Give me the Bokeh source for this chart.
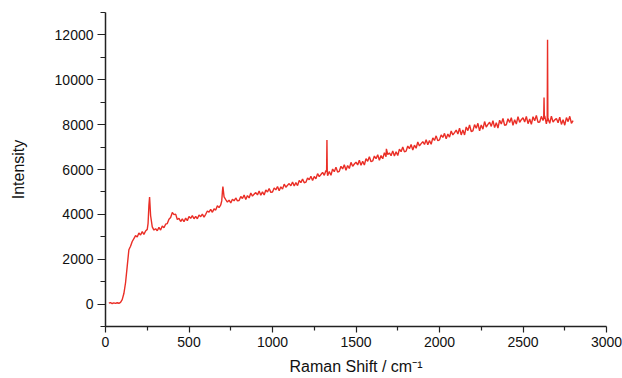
import numpy as np
from bokeh.plotting import figure
from bokeh.models import FixedTicker, ColumnDataSource
from bokeh.embed import file_html
from bokeh.resources import INLINE

# sampling grid for the baseline spectrum (cm^-1)
shift_grid = list(range(20, 2810, 10))
intensity_grid = [
    40, 65, 25, 55, 30, 60, 35, 80,
    200, 470, 950, 1680, 2420, 2580, 2790, 2920, 3050, 2990,
    3170, 3080, 3230, 3110, 3260, 3330, 4400, 3950, 3440, 3300,
    3360, 3270, 3420, 3300, 3480, 3400, 3560, 3590, 3780, 3860,
    4080, 3990, 4010, 3770, 3820, 3680, 3800, 3670, 3830, 3720,
    3904, 3823, 3946, 3805, 3910, 3805, 3970, 3895, 4012, 3877,
    4002, 4152, 4098, 4224, 4092, 4246, 4190, 4380, 4300, 4418,
    5000, 4780, 4660, 4548, 4634, 4510, 4676, 4602, 4730, 4606,
    4616, 4798, 4708, 4858, 4664, 4838, 4732, 4954, 4816, 4902,
    4972, 4869, 5038, 4855, 5000, 4865, 5090, 4995, 5156, 4981,
    4996, 5180, 5092, 5244, 5052, 5228, 5124, 5348, 5212, 5300,
    5372, 5272, 5444, 5264, 5412, 5280, 5508, 5416, 5580, 5408,
    5436, 5624, 5540, 5696, 5508, 5688, 5588, 5816, 5684, 5776,
    5870, 5742, 5954, 5726, 5908, 5740, 6022, 5904, 6106, 5888,
    5920, 6144, 6028, 6212, 5966, 6180, 6044, 6318, 6142, 6246,
    6330, 6202, 6414, 6186, 6368, 6200, 6482, 6364, 6566, 6348,
    6380, 6600, 6480, 6660, 6410, 6620, 6480, 6750, 6570, 6670,
    6740, 6615, 6830, 6605, 6790, 6625, 6910, 6795, 7000, 6785,
    6820, 7045, 6930, 7115, 6870, 7085, 6950, 7225, 7050, 7155,
    7240, 7115, 7330, 7105, 7290, 7125, 7410, 7295, 7500, 7285,
    7320, 7544, 7428, 7612, 7366, 7580, 7444, 7718, 7542, 7646,
    7757, 7581, 7847, 7541, 7768, 7540, 7897, 7734, 7987, 7694,
    7726, 8002, 7836, 8060, 7725, 7988, 7796, 8137, 7893, 8013,
    8107, 7923, 8181, 7867, 8086, 7850, 8199, 8028, 8273, 7972,
    7996, 8265, 8092, 8309, 7967, 8223, 8024, 8358, 8107, 8220,
    8307, 8115, 8365, 8043, 8254, 8010, 8351, 8172, 8409, 8100,
    8116, 8371, 8184, 8387, 8031, 8273, 8060, 8380, 8115, 8214,
    8277, 8084, 8333, 8010, 8220, 7975, 8315, 8135, 8371, 8061, 8180,
]

# narrow Raman peaks inserted between grid points
peak_shift = [255, 264, 696, 703, 1324, 1326, 1328, 1682, 2624, 2626, 2628, 2645, 2647, 2649]
peak_intensity = [3600, 4770, 4600, 5240, 5900, 7320, 5880, 6920, 8300, 9210, 8250, 8250, 11780, 8150]

x_ticks = [0, 500, 1000, 1500, 2000, 2500, 3000]
x_minor = [250, 750, 1250, 1750, 2250, 2750]
y_ticks = [0, 2000, 4000, 6000, 8000, 10000, 12000]
y_minor = [-1000, 1000, 3000, 5000, 7000, 9000, 11000, 13000]

xs = np.array(shift_grid + peak_shift, dtype=float)
ys = np.array(intensity_grid + peak_intensity, dtype=float)
order = np.argsort(xs, kind="stable")
src = ColumnDataSource(dict(x=xs[order], y=ys[order]))

p = figure(width=622, height=378, output_backend="svg", toolbar_location=None,
           x_range=(0, 3000), y_range=(-1000, 13000),
           min_border_left=105, min_border_right=16, min_border_top=12, min_border_bottom=52)
p.line("x", "y", source=src, line_color="#ea2e26", line_width=1.4)

p.outline_line_color = None
p.xgrid.visible = False
p.ygrid.visible = False
p.background_fill_color = "white"
p.border_fill_color = "white"

p.xaxis.ticker = FixedTicker(ticks=x_ticks, minor_ticks=x_minor)
p.yaxis.ticker = FixedTicker(ticks=y_ticks, minor_ticks=y_minor)

for ax in (p.xaxis, p.yaxis):
    ax.axis_line_color = "#222222"
    ax.axis_line_width = 1.5
    ax.major_tick_line_color = "#222222"
    ax.minor_tick_line_color = "#222222"
    ax.major_tick_line_width = 1.2
    ax.minor_tick_line_width = 1.2
    ax.major_tick_in = 0
    ax.minor_tick_in = 0
    ax.major_label_text_font = "Liberation Sans"
    ax.major_label_text_font_size = "14px"
    ax.major_label_text_color = "#111111"
    ax.axis_label_text_font = "Liberation Sans"
    ax.axis_label_text_font_size = "16px"
    ax.axis_label_text_font_style = "normal"
    ax.axis_label_text_color = "#111111"

p.xaxis.major_tick_out = 6
p.xaxis.minor_tick_out = 4
p.yaxis.major_tick_out = 8
p.yaxis.minor_tick_out = 5
p.xaxis.major_label_standoff = 4
p.yaxis.major_label_standoff = 4
p.xaxis.axis_label = "Raman Shift / cm\u207b\u00b9"
p.yaxis.axis_label = "Intensity"
p.xaxis.axis_label_standoff = 8
p.yaxis.axis_label_standoff = 25

open("out.html", "w").write(file_html(p, INLINE))
